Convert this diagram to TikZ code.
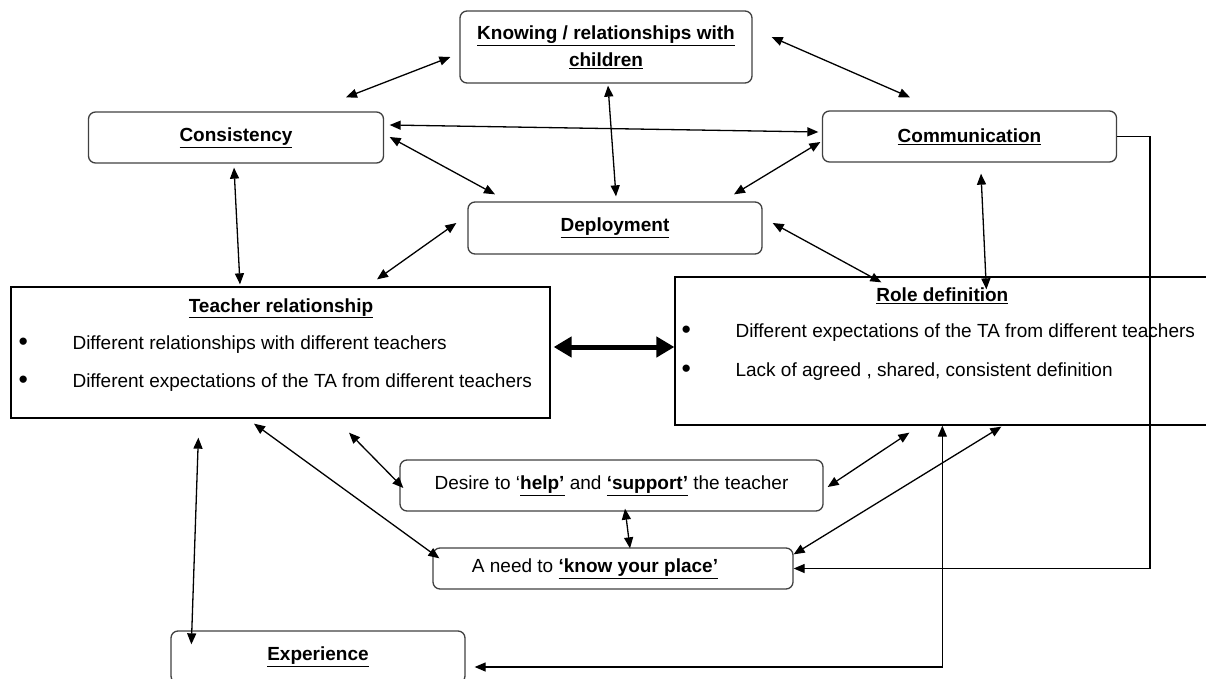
\documentclass[tikz,border=0pt]{standalone}
\usepackage{fontspec}
\setmainfont{Liberation Sans}
\usetikzlibrary{calc,arrows.meta}
\tikzset{>={Triangle[length=11pt,width=9pt]}}
\newcommand{\ultitle}[1]{\underline{\textbf{#1}}}
\newcommand{\itembullet}{\makebox[54pt][l]{\raisebox{-1.5pt}{\scalebox{1.4}{•}}}}

\begin{document}
\begin{tikzpicture}[x=1pt,y=-1pt,
  every node/.style={font=\fontsize{19}{23}\selectfont},
  roundbox/.style={draw=black!75,line width=1.3pt,rounded corners=7pt},
  plainbox/.style={draw,line width=1.3pt},
  boxtitle/.style={anchor=base,inner sep=0pt},
  itemline/.style={anchor=base west,inner sep=0pt},
  link/.style={<->,line width=1.3pt}]
\useasboundingbox (0,0) rectangle (1206,679);

% boxes
\node[roundbox,minimum width=292pt,minimum height=72pt,align=center,
  font=\fontsize{19}{27}\selectfont] (know) at (606,47)
  {\ultitle{Knowing / relationships with}\\\ultitle{children}};
\node[roundbox,minimum width=295pt,minimum height=51pt] (cons) at (236,137.5) {\ultitle{Consistency}};
\node[roundbox,minimum width=294pt,minimum height=51pt] (comm) at (969.5,136.5) {\ultitle{Communication}};
\node[roundbox,minimum width=294pt,minimum height=52pt] (deploy) at (615,228) {\ultitle{Deployment}};
\node[plainbox,minimum width=539pt,minimum height=131pt] (teacher) at (280.5,352.5) {};
\node[plainbox,minimum width=565pt,minimum height=148pt] (role) at (957.5,351) {};
\node[roundbox,minimum width=423pt,minimum height=51pt] (desire) at (611.5,485.5)
  {Desire to ‘\ultitle{help’} and \ultitle{‘support’} the teacher};
\node[roundbox,minimum width=360pt,minimum height=41pt] (place) at (613,568.5)
  {A need to \ultitle{‘know your place’}\hspace*{36pt}};
\node[roundbox,minimum width=294pt,minimum height=52pt] (exper) at (318,657) {\ultitle{Experience}};

% texts in the two big boxes
\node[boxtitle] (ttitle) at ($(teacher.north)+(0.5,26)$) {\ultitle{Teacher relationship}};
\node[itemline] (titem1) at ($(teacher.north west)+(8,63)$)
  {\itembullet Different relationships with different teachers};
\node[itemline] (titem2) at ($(teacher.north west)+(8,101)$)
  {\itembullet Different expectations of the TA from different teachers};
\node[boxtitle] (rtitle) at ($(role.north west)+(268,25)$) {\ultitle{Role definition}};
\node[itemline] (ritem1) at ($(role.north west)+(7,61)$)
  {\itembullet Different expectations of the TA from different teachers};
\node[itemline] (ritem2) at ($(role.north west)+(7,100)$)
  {\itembullet Lack of agreed , shared, consistent definition};

% links
\draw[link] ($(know.west)+(-9,10)$) -- ($(cons.north)+(110,-14)$);
\draw[link] ($(know.east)+(19,-10)$) -- ($(comm.north)+(-59.5,-13)$);
\draw[link] ($(know.south)+(2,2)$) -- ($(deploy.north)+(1,-5)$);
\draw[link] ($(cons.east)+(5.5,-12.5)$) -- ($(comm.west)+(-3.5,-4.5)$);
\draw[link] ($(cons.east)+(5.5,-0.5)$) -- ($(deploy.north)+(-120,-7)$);
\draw[link] ($(comm.west)+(-1.5,5.5)$) -- ($(deploy.north)+(119,-7)$);
\draw[link] ($(cons.south)+(-2,4)$) -- ($(teacher.north)+(-40.5,-2)$);
\draw[link] ($(teacher.north)+(96.5,-7)$) -- ($(deploy.west)+(-11,-5)$);
\draw[link] ($(deploy.east)+(10,-5)$) -- ($(role.north west)+(207,6)$);
\draw[link] ($(comm.south)+(11.5,11)$) -- ($(role.north west)+(312,13)$);
\draw[<->,line width=5pt,>={Triangle[length=18pt,width=20pt]}]
  ($(teacher.east)+(3,-5.5)$) -- ($(role.west)+(0,-4)$);
\draw[link] ($(teacher.south)+(-26.5,5)$) -- ($(place.north west)+(7,11)$);
\draw[link] ($(teacher.south)+(68.5,14)$) -- ($(desire.west)+(4,2.5)$);
\draw[link] ($(teacher.south west)+(188,19)$) -- ($(exper.north west)+(21,14)$);
\draw[link] ($(desire.south)+(13.5,-3)$) -- ($(place.north)+(17,1)$);
\draw[link] ($(desire.east)+(4,1.5)$) -- ($(role.south west)+(235,7)$);
\draw[link] ($(place.north east)+(0,7)$) -- ($(role.south west)+(327,1)$);

% long routes
\coordinate (cturn) at (1150,0);
\draw[->,line width=1.3pt] (comm.east) -| (cturn |- place.east) -- (place.east);
\draw[link] ($(exper.east)+(9,10)$) -| ($(role.south west)+(268,0)$);
\end{tikzpicture}
\end{document}
